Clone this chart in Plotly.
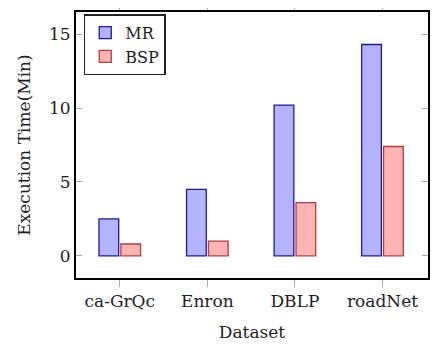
import plotly.graph_objects as go

categories = ["ca-GrQc", "Enron", "DBLP", "roadNet"]
mr_values = [2.5, 4.5, 10.2, 14.3]
bsp_values = [0.8, 1.0, 3.6, 7.4]
y_ticks = [0, 5, 10, 15]

FONT = "DejaVu Serif"
FS = 17
TXT = "#1e1e1e"

fig = go.Figure()
fig.add_trace(go.Bar(
    x=categories, y=mr_values, name="MR",
    marker=dict(color="#b3b3ff", line=dict(color="#1a1aa0", width=1.3)),
))
fig.add_trace(go.Bar(
    x=categories, y=bsp_values, name="BSP",
    marker=dict(color="#ffb3b3", line=dict(color="#b83a3a", width=1.3)),
))

# page body has an 8px default margin, so the figure is sized to fit the window
fig.update_layout(
    width=439, height=342,
    margin=dict(l=68, r=19, t=4, b=72, autoexpand=False),
    paper_bgcolor="white", plot_bgcolor="white",
    barmode="group", bargap=0.5, bargroupgap=0.1,
    font=dict(family=FONT, size=FS, color=TXT),
    showlegend=True,
    legend=dict(
        x=0.022, y=0.992, xanchor="left", yanchor="top",
        bordercolor="#222", borderwidth=1.5, bgcolor="white",
        font=dict(family=FONT, size=16, color=TXT),
        tracegroupgap=0, itemwidth=30,
    ),
)
fig.update_xaxes(
    range=[-0.5, 3.52], automargin=False,
    showline=True, linecolor="black", linewidth=2, mirror="ticks",
    ticks="outside", ticklen=7, tickcolor="#aaa", tickwidth=1,
    showgrid=False, zeroline=False,
    tickfont=dict(family=FONT, size=FS, color=TXT),
    title=dict(text="Dataset", font=dict(family=FONT, size=FS, color=TXT), standoff=16),
)
fig.update_yaxes(
    range=[-1.5, 16.5], automargin=False,
    tickvals=y_ticks,
    showline=True, linecolor="black", linewidth=2, mirror="ticks",
    ticks="inside", ticklen=6, tickcolor="#aaa", tickwidth=1,
    showgrid=False, zeroline=False,
    tickfont=dict(family=FONT, size=FS, color=TXT),
    title=dict(text="Execution Time(Min)", font=dict(family=FONT, size=FS, color=TXT), standoff=14),
)

fig.write_html("out.html")
